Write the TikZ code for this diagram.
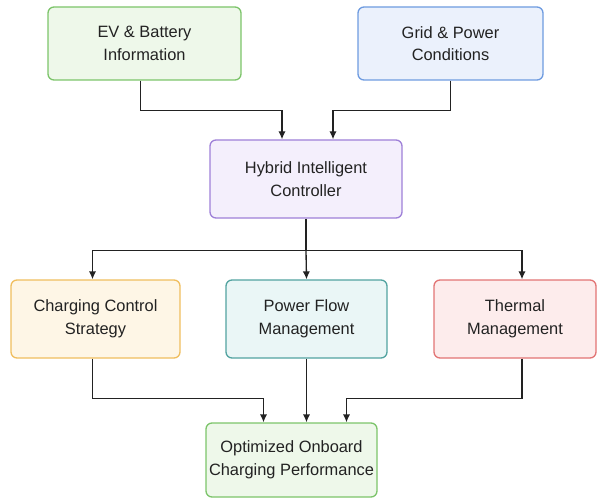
\documentclass[tikz,border=0pt]{standalone}
\usepackage{fontspec}
\setmainfont{Liberation Sans}
\usetikzlibrary{arrows.meta,calc,positioning}
\definecolor{EvLine}{HTML}{7CC46A}
\definecolor{EvFill}{HTML}{EEF8EA}
\definecolor{GridLine}{HTML}{6E9BE0}
\definecolor{GridFill}{HTML}{EBF1FC}
\definecolor{CtrlLine}{HTML}{9E80D8}
\definecolor{CtrlFill}{HTML}{F4EFFC}
\definecolor{ChgLine}{HTML}{F0BE5E}
\definecolor{ChgFill}{HTML}{FEF6E6}
\definecolor{FlowLine}{HTML}{52A3A0}
\definecolor{FlowFill}{HTML}{EAF6F6}
\definecolor{HeatLine}{HTML}{E27474}
\definecolor{HeatFill}{HTML}{FDECEC}
\definecolor{Ink}{HTML}{222222}

\begin{document}
\begin{tikzpicture}[x=0.75pt,y=-0.75pt,font=\fontsize{12.3}{17}\selectfont,
        block/.style={draw=#1Line,fill=#1Fill,line width=1pt,rounded corners=4.5pt,
                      align=center,text=Ink,inner sep=0pt},
        flow/.style={-{Latex[length=6pt,width=5.5pt]},Ink,line width=1pt}]
      \useasboundingbox (0,0) rectangle (599,499);
      \node[block=Ev,minimum width=193*0.75pt,minimum height=73*0.75pt] (ev) at (144.5,43.5)
        {EV \& Battery\\Information};
      \node[block=Grid,minimum width=185*0.75pt,minimum height=73*0.75pt] (grid) at (450.5,43.5)
        {Grid \& Power\\Conditions};
      \node[block=Ctrl,minimum width=192*0.75pt,minimum height=78*0.75pt] (hic) at (306,179)
        {Hybrid Intelligent\\Controller};
      \node[block=Chg,minimum width=169*0.75pt,minimum height=78*0.75pt] (ccs) at (95.5,319)
        {Charging Control\\Strategy};
      \node[block=Flow,minimum width=161*0.75pt,minimum height=78*0.75pt] (pfm) at (306.5,319)
        {Power Flow\\Management};
      \node[block=Heat,minimum width=162*0.75pt,minimum height=78*0.75pt] (thm) at (515,319)
        {Thermal\\Management};
      \node[block=Ev,minimum width=171*0.75pt,minimum height=74*0.75pt] (ocp) at (291.5,460)
        {Optimized Onboard\\Charging Performance};
      % inputs to the controller
      \draw[flow] ([xshift=-4*0.75pt]ev.south) -- ++(0,30) -| ([xshift=-24*0.75pt]hic.north);
      \draw[flow] (grid.south) -- ++(0,30) -| ([xshift=27*0.75pt]hic.north);
      % controller to the three modules
      \coordinate (split) at ($(hic.south)+(0,32)$);
      \draw[line width=1pt,Ink] (hic.south) -- (split);
      \draw[flow] (split) -| ([xshift=-3*0.75pt]ccs.north);
      \draw[flow] (split) -- (pfm.north);
      \draw[flow] (split) -| ([xshift=7*0.75pt]thm.north);
      % modules to the outcome
      \draw[flow] ([xshift=-3*0.75pt]ccs.south) -- ++(0,40) -| ([xshift=-28*0.75pt]ocp.north);
      \draw[flow] (pfm.south) -- (pfm.south |- ocp.north);
      \draw[flow] ([xshift=7*0.75pt]thm.south) -- ++(0,40) -| ([xshift=55*0.75pt]ocp.north);
    \end{tikzpicture}
\end{document}
